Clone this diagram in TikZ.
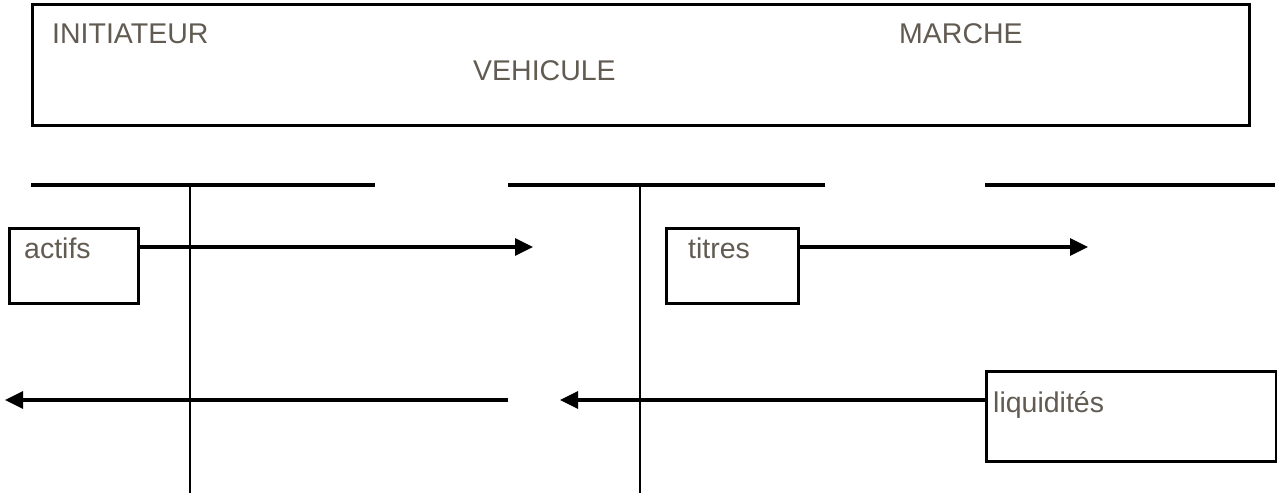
\documentclass[tikz,border=0pt]{standalone}
\usepackage{fontspec}
\setmainfont{Liberation Sans}
\usetikzlibrary{arrows.meta}
\definecolor{txt}{RGB}{98,91,82}
\tikzset{
  lbl/.style={anchor=base west,inner sep=0pt,text=txt,font=\fontsize{28.5}{32}\selectfont},
  boxn/.style={draw=black,line width=2.6pt,inner sep=0pt,fill=white},
  bar/.style={line width=3.6pt},
  post/.style={line width=2.6pt},
  flow/.style={line width=3.2pt,-{Triangle[length=18pt,width=17pt]}}
}
\begin{document}
\begin{tikzpicture}[x=1pt,y=-1pt]
\useasboundingbox (0,0) rectangle (1277,494);
% top frame
\node[boxn,minimum width=1217pt,minimum height=121pt,anchor=north west] (frame) at (31,3) {};
\node[lbl] (init) at (52,44) {INITIATEUR};
\node[lbl] (march) at (899,44) {MARCHE};
\node[lbl] (veh) at (473,81) {VEHICULE};
% horizontal bars
\coordinate (b1l) at (31,185); \coordinate (b1r) at (375,185);
\coordinate (b2l) at (508,185); \coordinate (b2r) at (825,185);
\coordinate (b3l) at (985,185); \coordinate (b3r) at (1275,185);
\draw[bar] (b1l) -- (b1r);
\draw[bar] (b2l) -- (b2r);
\draw[bar] (b3l) -- (b3r);
% vertical posts
\coordinate (v1t) at (190,185); \coordinate (v1b) at (190,493);
\coordinate (v2t) at (640,185); \coordinate (v2b) at (640,493);
\draw[post] (v1t) -- (v1b);
\draw[post] (v2t) -- (v2b);
% boxes
\node[boxn,minimum width=129pt,minimum height=75pt,anchor=north west] (actifs) at (8,227) {};
\node[lbl] (actifst) at (24,259) {actifs};
\node[boxn,minimum width=132pt,minimum height=75pt,anchor=north west] (titres) at (665,227) {};
\node[lbl] (titrest) at (688,259) {titres};
\node[boxn,minimum width=290pt,minimum height=90pt,anchor=north west] (liq) at (985,370) {};
\node[lbl] (liqt) at (993,412) {liquidités};
% arrows
\coordinate (a1e) at (533,247);
\coordinate (a2e) at (1088,247);
\coordinate (a3s) at (508,400); \coordinate (a3e) at (5,400);
\coordinate (a4e) at (560,400);
\draw[flow] (actifs.east |- a1e) -- (a1e);
\draw[flow] (titres.east |- a2e) -- (a2e);
\draw[flow] (a3s) -- (a3e);
\draw[flow] (liq.west |- a4e) -- (a4e);
\end{tikzpicture}
\end{document}
